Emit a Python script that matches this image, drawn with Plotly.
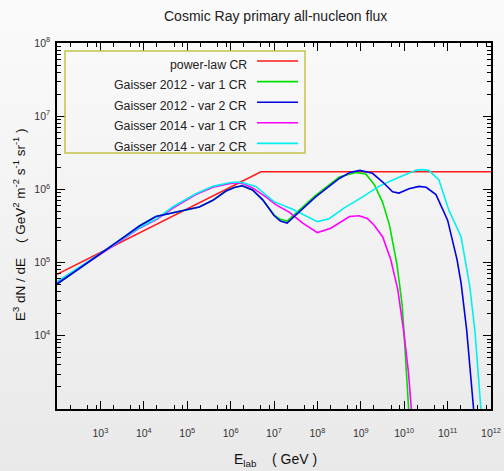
import base64
import plotly.graph_objects as go

# ---- data: lab energy (GeV) and E^3 dN/dE (GeV^2 m^-2 s^-1 sr^-1) ----
E_powerlaw = [1e2, 5.0e6, 1e12]
F_powerlaw = [6.9e4, 1.74e6, 1.74e6]

E_g12v1 = [1e2, 3.16e2, 1e3, 3.16e3, 7.9e3, 1.9e4, 4.6e4, 9.3e4, 1.9e5, 3.9e5, 7.8e5,
           1.26e6, 1.86e6, 3.2e6, 5.5e6, 1e7, 1.4e7, 2.0e7, 9.1e7, 3.2e8, 7.6e8,
           1.3e9, 1.86e9, 2.04e9, 3.2e9, 4.6e9, 6.8e9, 9.0e9, 1.0e10, 1.25e10, 1.42e10]
F_g12v1 = [5.1e4, 8.1e4, 1.32e5, 2.14e5, 3.16e5, 4.27e5, 4.8e5, 5.25e5, 5.75e5, 7.1e5, 9.5e5,
           1.07e6, 1.12e6, 9.8e5, 7.2e5, 4.5e5, 3.9e5, 3.7e5, 8.3e5, 1.48e6, 1.7e6,
           1.62e6, 1.26e6, 1.17e6, 6.6e5, 3.2e5, 9.5e4, 2.6e4, 1.0e4, 1.0e3, 3.2e2]

E_g12v2 = [1e2, 3.16e2, 1e3, 3.16e3, 7.9e3, 1.9e4, 4.6e4, 9.3e4, 1.9e5, 3.9e5, 7.8e5,
           1.26e6, 1.86e6, 3.2e6, 5.5e6, 1e7, 1.4e7, 2.0e7, 9.1e7, 3.2e8, 5.6e8, 9.5e8,
           1.86e9, 3.2e9, 5.4e9, 7.6e9, 1.29e10, 2.2e10, 3.2e10, 5.4e10, 1e11, 1.65e11,
           2.05e11, 2.75e11, 3.9e11, 4.4e11]
F_g12v2 = [5.1e4, 8.1e4, 1.32e5, 2.14e5, 3.16e5, 4.27e5, 4.8e5, 5.25e5, 5.75e5, 7.1e5, 9.5e5,
           1.07e6, 1.12e6, 9.8e5, 7.2e5, 4.4e5, 3.7e5, 3.47e5, 7.9e5, 1.41e6, 1.7e6, 1.82e6,
           1.66e6, 1.26e6, 9.3e5, 8.9e5, 1.02e6, 1.1e6, 1.07e6, 8.5e5, 3.8e5, 1.1e5,
           5.2e4, 1.2e4, 1.1e3, 5.0e2]

E_g14v1 = [1e2, 3.16e2, 1e3, 2.0e3, 7.9e3, 2.0e4, 4.6e4, 1.58e5, 3.9e5, 9.3e5, 1.41e6,
           1.9e6, 3.2e6, 6.5e6, 1.1e7, 2.24e7, 4.6e7, 1e8, 2.04e8, 4.0e8, 5.5e8, 9.1e8,
           1.41e9, 2.04e9, 3.2e9, 4.9e9, 7.1e9, 9.8e9, 1.25e10, 1.46e10, 1.64e10]
F_g14v1 = [5.4e4, 8.3e4, 1.29e5, 1.7e5, 2.95e5, 3.9e5, 5.5e5, 8.5e5, 1.07e6, 1.2e6, 1.23e6,
           1.2e6, 1.05e6, 7.9e5, 6.2e5, 4.9e5, 3.47e5, 2.57e5, 2.95e5, 3.8e5, 4.27e5, 4.37e5,
           4.0e5, 3.24e5, 2.24e5, 1.1e5, 4.3e4, 1.12e4, 3.2e3, 1.0e3, 4.0e2]

E_g14v2 = [1e2, 3.16e2, 1e3, 2.0e3, 7.9e3, 2.0e4, 4.6e4, 1.58e5, 3.9e5, 9.3e5, 1.41e6,
           1.9e6, 3.8e6, 6.3e6, 1e7, 2.6e7, 5.0e7, 1e8, 1.86e8, 4.0e8, 1.1e9, 2.6e9,
           6.5e9, 1.86e10, 2.5e10, 3.7e10, 6.3e10, 1.07e11, 2.05e11, 3.25e11, 4.3e11, 5.7e11,
           6.4e11]
F_g14v2 = [5.5e4, 8.5e4, 1.32e5, 1.74e5, 3.0e5, 3.98e5, 5.75e5, 8.7e5, 1.1e6, 1.23e6, 1.26e6,
           1.23e6, 1.1e6, 8.5e5, 6.8e5, 5.4e5, 4.5e5, 3.63e5, 3.98e5, 5.5e5, 7.9e5, 1.1e6,
           1.41e6, 1.82e6, 1.86e6, 1.82e6, 1.35e6, 5.2e5, 2.24e5, 4.7e4, 1.1e4, 1.1e3,
           5.0e2]

series = [
    ("power-law CR", E_powerlaw, F_powerlaw, "#ff1a1a"),
    ("Gaisser 2012 - var 1 CR", E_g12v1, F_g12v1, "#00e000"),
    ("Gaisser 2014 - var 1 CR", E_g14v1, F_g14v1, "#ff00ff"),
    ("Gaisser 2014 - var 2 CR", E_g14v2, F_g14v2, "#00f0f0"),
    ("Gaisser 2012 - var 2 CR", E_g12v2, F_g12v2, "#0000e6"),
]
legend_order = ["power-law CR", "Gaisser 2012 - var 1 CR", "Gaisser 2012 - var 2 CR",
                "Gaisser 2014 - var 1 CR", "Gaisser 2014 - var 2 CR"]

x_major = [10.0 ** k for k in range(3, 13)]
x_major_text = [f"10<sup>{k}</sup>" for k in range(3, 13)]
x_minor = [m * 10.0 ** k for k in range(2, 12) for m in (2, 5, 8)]
y_major = [10.0 ** k for k in range(4, 9)]
y_major_text = [f"10<sup>{k}</sup>" for k in range(4, 9)]

# ---- page geometry (pixels) ----
W, H = 504, 471
L, R, T, B = 57, 13, 43, 62
PW, PH = W - L - R, H - T - B


def px(x):
    return (x - L) / PW


def py(y):
    return (H - B - y) / PH


FONT = "Liberation Sans, Arial, Helvetica, sans-serif"

fig = go.Figure()
for name, xs, ys, color in series:
    fig.add_trace(go.Scatter(x=xs, y=ys, mode="lines", name=name,
                             line=dict(color=color, width=1.6), showlegend=False))

axis_common = dict(
    type="log", showline=True, linecolor="black", linewidth=1.5, mirror="ticks",
    ticks="inside", ticklen=8, tickwidth=1, tickcolor="black", showgrid=False,
    zeroline=False, tickfont=dict(family=FONT, size=10.5, color="#333333"),
)
fig.update_xaxes(range=[2, 12], tickmode="array", tickvals=x_major, ticktext=x_major_text,
                 ticklabelstandoff=14,
                 minor=dict(tickmode="array", tickvals=x_minor, ticks="inside", ticklen=4,
                            tickcolor="black", showgrid=False), **axis_common)
fig.update_yaxes(range=[3, 8], tickmode="array", tickvals=y_major, ticktext=y_major_text,
                 ticklabelstandoff=3,
                 minor=dict(dtick="D1", ticks="inside", ticklen=4, tickcolor="black",
                            showgrid=False), **axis_common)

# soft vertical grey gradient behind the whole page
svg = ('<svg xmlns="http://www.w3.org/2000/svg" width="504" height="471">'
       '<defs><linearGradient id="g" x1="0" y1="0" x2="0" y2="1">'
       '<stop offset="0" stop-color="#fbfbfb"/><stop offset="1" stop-color="#e9e9e9"/>'
       '</linearGradient></defs><rect width="504" height="471" fill="url(#g)"/></svg>')
bg_uri = "data:image/svg+xml;base64," + base64.b64encode(svg.encode()).decode()
fig.add_layout_image(dict(source=bg_uri, xref="paper", yref="paper", x=px(0), y=py(0),
                          sizex=W / PW, sizey=H / PH, xanchor="left", yanchor="top",
                          sizing="stretch", layer="below"))

# legend box drawn by hand: labels right-aligned, line samples on the right
shapes = [dict(type="rect", xref="paper", yref="paper", x0=px(65), x1=px(305),
               y0=py(51), y1=py(153), line=dict(color="#c2c24a", width=1.5))]
annotations = []
color_of = {s[0]: s[3] for s in series}
for i, name in enumerate(legend_order):
    yl = 61 + i * 20.6
    shapes.append(dict(type="line", xref="paper", yref="paper", x0=px(257), x1=px(298),
                       y0=py(yl), y1=py(yl), line=dict(color=color_of[name], width=1.6)))
    annotations.append(dict(text=name, xref="paper", yref="paper", x=px(249), y=py(yl + 3.5),
                            xanchor="right", yanchor="middle", showarrow=False,
                            font=dict(family=FONT, size=12.3, color="#222222")))

# axis titles
annotations.append(dict(text="E<sub>lab</sub>\u00a0\u00a0\u00a0\u00a0( GeV )", xref="paper",
                        yref="paper", x=px(275), y=py(460), xanchor="center", yanchor="middle",
                        showarrow=False, font=dict(family=FONT, size=14, color="#111111")))
annotations.append(dict(
    text="E<sup>3</sup> dN / dE\u00a0\u00a0\u00a0\u00a0( GeV<sup>2</sup> m<sup>-2</sup> "
         "s<sup>-1</sup> sr<sup>-1</sup> )",
    xref="paper", yref="paper", x=px(19), y=py(225), xanchor="center", yanchor="middle",
    textangle=-90, showarrow=False, font=dict(family=FONT, size=13.5, color="#111111")))
annotations.append(dict(text="Cosmic Ray primary all-nucleon flux", xref="paper", yref="paper",
                        x=px(275), y=py(16), xanchor="center", yanchor="middle",
                        showarrow=False, font=dict(family=FONT, size=14, color="#222222")))

fig.update_layout(
    width=W, height=H, margin=dict(l=L, r=R, t=T, b=B, autoexpand=False),
    paper_bgcolor="#f2f2f2", plot_bgcolor="rgba(0,0,0,0)",
    shapes=shapes, annotations=annotations, showlegend=False,
)

fig.write_html("out.html")
